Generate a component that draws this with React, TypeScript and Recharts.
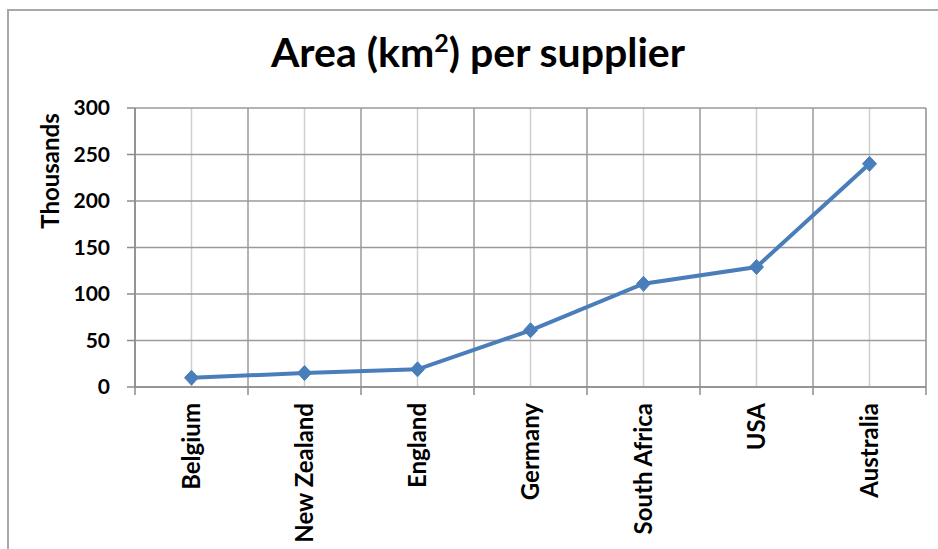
import React from 'react';
import { LineChart, Line, XAxis, YAxis, CartesianGrid, Label } from 'recharts';

const categories = ['Belgium', 'New Zealand', 'England', 'Germany', 'South Africa', 'USA', 'Australia'];
const areaThousands = [10, 15, 19, 61, 111, 129, 240];
const yTicks = [0, 50, 100, 150, 200, 250, 300];
const boundaryTicks = [0, 1, 2, 3, 4, 5, 6, 7];
const titleText = ['Area (km', '2', ') per supplier'];
const unitLabel = 'Thousands';

const data = categories.map((name, i) => ({ name, slot: i + 0.5, value: areaThousands[i] }));

const FONT = 'Lato, "Open Sans", sans-serif';
const LINE_COLOR = '#4a7ebb';

const Diamond = (props: any) => {
  const { cx, cy, index } = props;
  if (cx == null || cy == null) return null;
  const w = 7;
  const h = 7.5;
  return (
    <path
      key={`d-${index}`}
      d={`M${cx},${cy - h}L${cx + w},${cy}L${cx},${cy + h}L${cx - w},${cy}Z`}
      fill={LINE_COLOR}
      stroke={LINE_COLOR}
      strokeWidth={1}
    />
  );
};

const EmptyTick = () => <g />;

const CategoryTick = (props: any) => {
  const { x, y, payload } = props;
  return (
    <text
      x={x}
      y={y}
      transform={`rotate(-90, ${x}, ${y})`}
      textAnchor="end"
      dy="0.36em"
      fill="#000"
      fontFamily={FONT}
      fontWeight={700}
      fontSize={24}
    >
      {payload.value}
    </text>
  );
};

const UnitLabel = (props: any) => {
  const vb = props.viewBox || {};
  const x = (vb.x ?? 0) + 50;
  const y = (vb.y ?? 108) + 63;
  return (
    <text
      x={x}
      y={y}
      transform={`rotate(-90, ${x}, ${y})`}
      textAnchor="middle"
      dy="0.36em"
      fill="#000"
      fontFamily={FONT}
      fontWeight={700}
      fontSize={24}
    >
      {unitLabel}
    </text>
  );
};

export default function App() {
  return (
    <div style={{ position: 'absolute', left: 0, top: 0, width: 938, height: 549, background: '#fff', overflow: 'hidden' }}>
      <div
        style={{
          position: 'absolute',
          left: 7,
          top: 9,
          width: 960,
          height: 600,
          borderLeft: '2px solid #a8a8a8',
          borderTop: '2px solid #a8a8a8',
        }}
      />
      <div style={{ position: 'absolute', left: 0, top: 0 }}>
        <LineChart width={938} height={549} data={data} margin={{ top: 108, right: 12, bottom: 0, left: 0 }}>
          <XAxis
            xAxisId={0}
            dataKey="slot"
            type="number"
            domain={[0, 7]}
            allowDataOverflow
            ticks={boundaryTicks}
            interval={0}
            tick={<EmptyTick />}
            tickSize={8}
            height={1}
            axisLine={{ stroke: '#8c8c8c', strokeWidth: 1.5 }}
            tickLine={{ stroke: '#8c8c8c', strokeWidth: 1.5 }}
          />
          <XAxis
            xAxisId="cat"
            dataKey="name"
            height={161}
            padding={{ left: 56.5, right: 56.5 }}
            axisLine={false}
            tickLine={false}
            tickSize={0}
            tickMargin={15}
            interval={0}
            tick={<CategoryTick />}
          />
          <YAxis
            domain={[0, 300]}
            ticks={yTicks}
            width={135}
            tickSize={8}
            tickMargin={17}
            axisLine={{ stroke: '#8c8c8c', strokeWidth: 1.5 }}
            tickLine={{ stroke: '#8c8c8c', strokeWidth: 1.5 }}
            tick={{ fill: '#000', fontFamily: FONT, fontWeight: 700, fontSize: 21 }}
          >
            <Label content={<UnitLabel />} />
          </YAxis>
          <CartesianGrid xAxisId="cat" vertical={true} horizontal={false} stroke="#cfcfcf" strokeWidth={1.5} />
          <CartesianGrid xAxisId={0} vertical={true} horizontal={true} stroke="#9a9a9a" strokeWidth={1.5} />
          <Line
            xAxisId={0}
            type="linear"
            dataKey="value"
            stroke="none"
            strokeWidth={0}
            dot={false}
            activeDot={false}
            legendType="none"
            isAnimationActive={false}
          />
          <Line
            xAxisId="cat"
            type="linear"
            dataKey="value"
            stroke={LINE_COLOR}
            strokeWidth={4}
            dot={<Diamond />}
            activeDot={false}
            isAnimationActive={false}
          />
        </LineChart>
      </div>
      <svg width={938} height={549} style={{ position: 'absolute', left: 0, top: 0, pointerEvents: 'none' }}>
        <text x={478} y={67} textAnchor="middle" fontFamily={FONT} fontWeight={700} fontSize={41} fill="#000">
          {titleText[0]}
          <tspan fontSize={25} dy={-15}>{titleText[1]}</tspan>
          <tspan dy={15}>{titleText[2]}</tspan>
        </text>
      </svg>
    </div>
  );
}
